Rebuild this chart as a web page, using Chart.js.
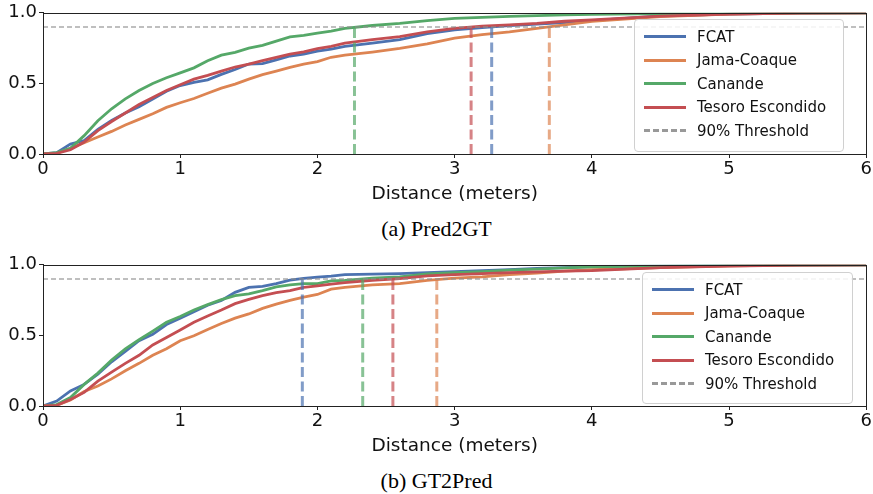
<!DOCTYPE html>
<html>
<head>
<meta charset="utf-8">
<script src="https://cdn.jsdelivr.net/npm/chart.js@4/dist/chart.umd.min.js"></script>
<style>
  body { margin: 0; background: #fff; width: 873px; height: 494px; position: relative; overflow: hidden; }
  .panel { position: absolute; left: 0; width: 873px; height: 205px; }
  .caption { position: absolute; left: 0; width: 873px; text-align: center;
             font-family: "Liberation Serif", "Times New Roman", serif; font-size: 22px; color: #000; }
  .legend { position: absolute; background: rgba(255,255,255,0.85); border: 1px solid #d0d0d0;
            border-radius: 4px; font-family: "DejaVu Sans", sans-serif; font-size: 15px; color: #111;
            box-sizing: border-box; padding: 5px 0 0 9px; }
  .legend .row { height: 23.5px; display: flex; align-items: center; white-space: nowrap; }
  .legend .swatch { width: 42px; height: 0; margin-right: 11px; border-top: 3.5px solid; }
</style>
</head>
<body>
<div class="panel" style="top:0"><canvas id="c1" width="873" height="205"></canvas></div>
<div class="legend" id="lg1" style="left:634px; top:19px; width:210px; height:133px"></div>
<div class="caption" style="top:216px">(a) Pred2GT</div>

<div class="panel" style="top:252px"><canvas id="c2" width="873" height="205"></canvas></div>
<div class="legend" id="lg2" style="left:642px; top:272px; width:211px; height:132px"></div>
<div class="caption" style="top:468px">(b) GT2Pred</div>

<script>
// distance grid (meters) shared by all curves
const distances = [0,0.1,0.2,0.3,0.4,0.5,0.6,0.7,0.8,0.9,1.0,1.1,1.2,1.3,1.4,1.5,1.6,1.7,1.8,1.9,2.0,2.1,2.2,2.4,2.6,2.8,3.0,3.2,3.4,3.6,3.8,4.0,4.5,5.0,5.5,6.0];

const sites = ['FCAT', 'Jama-Coaque', 'Canande', 'Tesoro Escondido'];
const siteColors = ['#4C72B0', '#DD8452', '#55A868', '#C44E52'];
const siteFaded = ['rgba(76,114,176,0.7)', 'rgba(221,132,82,0.7)', 'rgba(85,168,104,0.7)', 'rgba(196,78,82,0.7)'];
const thresholdLevel = 0.9;
const thresholdLabel = '90% Threshold';

// (a) Pred2GT cumulative fractions
const pred2gtFCAT   = [0,0.01,0.07,0.095,0.175,0.237,0.29,0.335,0.39,0.445,0.485,0.507,0.525,0.564,0.598,0.637,0.64,0.667,0.694,0.708,0.728,0.742,0.763,0.785,0.81,0.853,0.88,0.895,0.91,0.92,0.93,0.945,0.978,0.99,0.997,1];
const pred2gtJama   = [0,0.005,0.04,0.08,0.12,0.16,0.205,0.245,0.285,0.33,0.363,0.393,0.43,0.466,0.495,0.53,0.562,0.587,0.614,0.637,0.655,0.685,0.70,0.722,0.748,0.78,0.82,0.845,0.865,0.89,0.915,0.94,0.973,0.99,0.998,1];
const pred2gtCanande= [0,0.01,0.04,0.13,0.235,0.32,0.39,0.45,0.50,0.54,0.575,0.61,0.66,0.70,0.72,0.75,0.77,0.80,0.83,0.84,0.856,0.87,0.89,0.91,0.925,0.945,0.96,0.968,0.975,0.98,0.985,0.989,0.995,0.998,0.999,1];
const pred2gtTesoro = [0,0.005,0.03,0.085,0.165,0.23,0.29,0.35,0.40,0.45,0.49,0.53,0.557,0.587,0.616,0.637,0.662,0.685,0.708,0.724,0.747,0.763,0.785,0.81,0.832,0.865,0.89,0.905,0.915,0.925,0.94,0.95,0.977,0.99,0.997,1];
const pred2gtCut    = [3.27, 3.69, 2.27, 3.12];

// (b) GT2Pred cumulative fractions
const gt2predFCAT   = [0,0.035,0.107,0.153,0.226,0.313,0.387,0.462,0.508,0.577,0.622,0.668,0.714,0.748,0.805,0.84,0.847,0.867,0.892,0.904,0.913,0.92,0.931,0.934,0.938,0.945,0.952,0.958,0.966,0.974,0.98,0.988,0.993,0.996,0.998,1];
const gt2predJama   = [0,0.005,0.043,0.103,0.142,0.192,0.25,0.302,0.359,0.405,0.462,0.497,0.542,0.584,0.622,0.652,0.691,0.721,0.748,0.771,0.79,0.828,0.84,0.858,0.867,0.89,0.905,0.915,0.93,0.942,0.955,0.965,0.98,0.993,0.998,1];
const gt2predCanande= [0,0.01,0.06,0.153,0.233,0.325,0.405,0.469,0.53,0.593,0.634,0.68,0.718,0.753,0.782,0.794,0.817,0.844,0.858,0.867,0.867,0.886,0.89,0.905,0.915,0.935,0.945,0.952,0.962,0.97,0.978,0.986,0.993,0.997,0.999,1];
const gt2predTesoro = [0,0.005,0.046,0.096,0.176,0.24,0.302,0.359,0.432,0.485,0.538,0.593,0.638,0.68,0.725,0.755,0.782,0.803,0.817,0.84,0.851,0.863,0.874,0.89,0.902,0.922,0.93,0.937,0.944,0.95,0.955,0.959,0.98,0.99,0.997,1];
const gt2predCut    = [1.89, 2.87, 2.33, 2.55];

const xTicks = [0,1,2,3,4,5,6];
const yTicks = [0, 0.5, 1.0];

const frame = {
  id: 'frame',
  afterDraw(chart) {
    const a = chart.chartArea, ctx = chart.ctx;
    ctx.save();
    ctx.strokeStyle = '#222';
    ctx.lineWidth = 1;
    ctx.strokeRect(Math.round(a.left) + 0.5, Math.round(a.top) + 0.5,
                   Math.round(a.right - a.left), Math.round(a.bottom - a.top));
    ctx.restore();
  }
};

function makeChart(id, curves, cuts) {
  const datasets = [];
  curves.forEach((ys, i) => {
    datasets.push({
      label: sites[i],
      data: distances.map((d, k) => ({ x: d, y: ys[k] })),
      borderColor: siteColors[i], borderWidth: 2.8,
      pointRadius: 0, tension: 0, order: 5 - i,
    });
  });
  datasets.push({
    label: thresholdLabel,
    data: [{ x: 0, y: thresholdLevel }, { x: 6, y: thresholdLevel }],
    borderColor: 'rgba(140,140,140,0.75)', borderWidth: 1.5, borderDash: [5, 3],
    pointRadius: 0, order: 1,
  });
  cuts.forEach((c, i) => {
    datasets.push({
      label: '_' + sites[i],
      data: [{ x: c, y: 0 }, { x: c, y: thresholdLevel }],
      borderColor: siteFaded[i], borderWidth: 3, borderDash: [10, 4.5],
      pointRadius: 0, order: 0,
    });
  });

  const tickFont = { family: 'DejaVu Sans', size: 18 };
  return new Chart(document.getElementById(id), {
    type: 'line',
    data: { datasets },
    plugins: [frame],
    options: {
      responsive: false, animation: false,
      layout: { padding: { top: 8, left: 0, right: 5, bottom: 0 }, autoPadding: false },
      plugins: { legend: { display: false }, tooltip: { enabled: false } },
      scales: {
        x: {
          type: 'linear', min: 0, max: 6,
          afterBuildTicks: s => { s.ticks = xTicks.map(v => ({ value: v })); },
          afterFit: s => { s.height = 51; },
          ticks: { font: tickFont, color: '#111', padding: 1, maxRotation: 0 },
          grid: { drawOnChartArea: false, tickLength: 4, color: '#222' },
          border: { display: true, color: '#222' },
          title: { display: true, text: 'Distance (meters)', color: '#111',
                   font: { family: 'DejaVu Sans', size: 18.5 }, padding: { top: 0, bottom: 0 } },
        },
        y: {
          min: 0, max: 1,
          afterBuildTicks: s => { s.ticks = yTicks.map(v => ({ value: v })); },
          afterFit: s => { s.width = 43; },
          ticks: { font: tickFont, color: '#111', padding: 2, callback: v => v.toFixed(1) },
          grid: { drawOnChartArea: false, tickLength: 4, color: '#222' },
          border: { display: true, color: '#222' },
        },
      },
    },
  });
}

function makeLegend(id) {
  const el = document.getElementById(id);
  let html = sites.map((s, i) =>
    `<div class="row"><span class="swatch" style="border-top-color:${siteColors[i]}"></span>${s}</div>`).join('');
  html += `<div class="row"><span class="swatch" style="border-top:3.5px dashed #999"></span>${thresholdLabel}</div>`;
  el.innerHTML = html;
}

makeChart('c1', [pred2gtFCAT, pred2gtJama, pred2gtCanande, pred2gtTesoro], pred2gtCut);
makeChart('c2', [gt2predFCAT, gt2predJama, gt2predCanande, gt2predTesoro], gt2predCut);
makeLegend('lg1');
makeLegend('lg2');
</script>
</body>
</html>
